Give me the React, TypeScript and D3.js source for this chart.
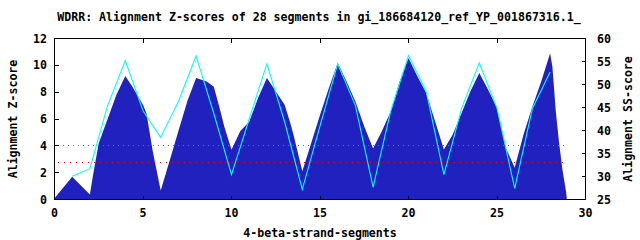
import React from "react";
import * as d3 from "d3";

const titleText = "WDRR: Alignment Z-scores of 28 segments in gi_186684120_ref_YP_001867316.1_";
const xLabel = "4-beta-strand-segments";
const yLabel = "Alignment Z-score";
const y2Label = "Alignment SS-score";

const xTicks = [0, 5, 10, 15, 20, 25, 30];
const yTicks = [0, 2, 4, 6, 8, 10, 12];
const y2Ticks = [25, 30, 35, 40, 45, 50, 55, 60];

// Z-score profile (filled area)
const areaX = [0, 1, 2, 2.2, 2.5, 3, 3.5, 4, 4.4, 5, 5.2, 5.55, 6, 6.55, 7, 7.5, 8, 8.6, 9, 9.33, 9.6, 10, 10.5, 11, 11.5, 12, 12.5, 13, 13.3, 13.5, 14, 14.5, 15, 15.5, 16, 16.5, 17, 17.5, 18, 18.5, 19, 19.5, 20, 20.5, 21, 21.5, 22, 22.5, 23, 23.5, 24, 24.5, 25, 25.5, 26, 26.5, 27, 27.5, 28, 28.13, 28.32, 28.5, 28.7, 28.9, 28.95];
const areaZ = [0.1, 1.7, 0.37, 2.0, 4.2, 6.0, 7.8, 9.2, 8.4, 7.07, 6.4, 3.6, 0.67, 3.1, 5.1, 7.3, 9.05, 8.8, 8.4, 6.8, 5.4, 3.7, 5.1, 5.8, 7.57, 9.05, 8.06, 7.07, 5.8, 4.84, 2.1, 4.2, 6.3, 8.3, 10.17, 8.8, 7.3, 5.45, 3.8, 5.1, 6.57, 8.8, 10.54, 9.18, 7.94, 5.83, 3.72, 4.84, 6.45, 8.06, 9.42, 8.18, 6.82, 3.84, 2.36, 4.84, 6.94, 8.8, 10.9, 9.9, 6.6, 4.3, 2.2, 0.6, 0];

// SS-score per segment (cyan line, right axis)
const segX = [1, 2, 3, 4, 5, 6, 7, 8, 9, 10, 11, 12, 13, 14, 15, 16, 17, 18, 19, 20, 21, 22, 23, 24, 25, 26, 27, 28];
const segSS = [30.05, 31.7, 45.4, 55.2, 44.3, 38.5, 46.3, 56.2, 43.7, 30.4, 42.5, 54.5, 41.9, 27.2, 41.0, 54.5, 45.4, 27.7, 44.3, 56.3, 48.5, 30.4, 44.8, 54.7, 44.8, 27.4, 44.8, 52.7];

const greenLevel = 4.0;
const redLevel = 2.78;
const thresholdRange = [0.2, 29];

export default function App() {
  const W = 640, H = 240;
  const L = 54.5, R = 585.5, T = 38.5, B = 199.5;
  const x = d3.scaleLinear().domain([0, 30]).range([L, R]);
  const y = d3.scaleLinear().domain([0, 12]).range([B, T]);
  const y2 = d3.scaleLinear().domain([25, 60]).range([B, T]);
  const font = "'DejaVu Sans Mono', monospace";
  const crisp = (v: number) => Math.round(v - 0.5) + 0.5;

  const areaData = areaX.map((v, i) => [v, areaZ[i]] as [number, number]);
  const areaPath = d3.area<[number, number]>()
    .x(d => x(d[0])).y0(y(0)).y1(d => y(d[1]))(areaData) || "";
  const lineData = segX.map((v, i) => [v, segSS[i]] as [number, number]);
  const linePath = d3.line<[number, number]>()
    .x(d => x(d[0])).y(d => y2(d[1]))(lineData) || "";

  const tl = 4;
  return (
    <svg width={W} height={H} style={{ position: "absolute", left: 0, top: 0, background: "#fff" }}
      fontFamily={font} fontWeight="bold" fontSize={11.6}>
      <rect x={0} y={0} width={W} height={H} fill="#fff" />
      <text x={319} y={21} textAnchor="middle">{titleText}</text>
      <path d={areaPath} fill="#2121c0" />
      <line x1={x(thresholdRange[0])} x2={x(thresholdRange[1])} y1={crisp(y(greenLevel))} y2={crisp(y(greenLevel))}
        stroke="#00c000" strokeWidth={1} strokeDasharray="1,4" shapeRendering="crispEdges" />
      <line x1={x(thresholdRange[0])} x2={x(thresholdRange[1])} y1={crisp(y(redLevel))} y2={crisp(y(redLevel))}
        stroke="#ff0000" strokeWidth={1} strokeDasharray="1,5" shapeRendering="crispEdges" />
      <path d={linePath} fill="none" stroke="#00ffff" strokeWidth={1.1} />
      <rect x={L} y={T} width={R - L} height={B - T} fill="none" stroke="#000" strokeWidth={1} />
      {xTicks.map(t => (
        <g key={"x" + t}>
          <line x1={crisp(x(t))} x2={crisp(x(t))} y1={B} y2={B - tl} stroke="#000" shapeRendering="crispEdges" />
          <line x1={crisp(x(t))} x2={crisp(x(t))} y1={T} y2={T + tl} stroke="#000" shapeRendering="crispEdges" />
          <text x={x(t)} y={B + 17} textAnchor="middle">{t}</text>
        </g>
      ))}
      {yTicks.map(t => (
        <g key={"y" + t}>
          <line x1={L} x2={L + tl} y1={crisp(y(t))} y2={crisp(y(t))} stroke="#000" shapeRendering="crispEdges" />
          <text x={47} y={y(t) + 4} textAnchor="end">{t}</text>
        </g>
      ))}
      {y2Ticks.map(t => (
        <g key={"y2" + t}>
          <line x1={R} x2={R - tl} y1={crisp(y2(t))} y2={crisp(y2(t))} stroke="#000" shapeRendering="crispEdges" />
          <text x={597} y={y2(t) + 4} textAnchor="start">{t}</text>
        </g>
      ))}
      <text x={320} y={237} textAnchor="middle">{xLabel}</text>
      <text transform={`translate(17,${(T + B) / 2}) rotate(-90)`} textAnchor="middle">{yLabel}</text>
      <text transform={`translate(632,${(T + B) / 2}) rotate(-90)`} textAnchor="middle">{y2Label}</text>
    </svg>
  );
}
